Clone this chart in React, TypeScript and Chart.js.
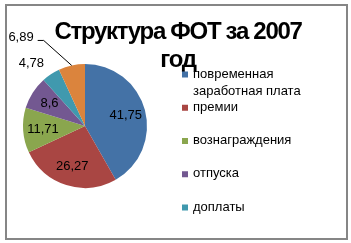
import React, { useEffect, useRef } from "react";
import { Chart, registerables } from "chart.js";

Chart.register(...registerables);

// ---- data ----
const titleLines = ["Структура ФОТ за 2007", "год"];
const categories = [
  "повременная заработная плата",
  "премии",
  "вознаграждения",
  "отпуска",
  "доплаты",
  "прочие",
];
const values = [41.75, 26.27, 11.71, 8.6, 4.78, 6.89];
const colors = ["#4472A6", "#A94643", "#8AA64E", "#735891", "#4099AE", "#DB843D"];
const visibleLegendItems = 5; // the last legend entry is clipped in the original
const labelPlacement = ["inside", "inside", "inside", "inside", "outside", "leader"];

// ---- styles ----
const W = 351;
const H = 243;
const LABEL_FONT = '13px "Liberation Sans", Arial, sans-serif';
const TITLE_FONT = 'bold 24px "Liberation Sans", Arial, sans-serif';

const fmt = (v: number) => String(v).replace(".", ",");

const framePlugin = {
  id: "frame",
  beforeDraw(chart: any) {
    const ctx = chart.ctx;
    ctx.save();
    ctx.fillStyle = "#ffffff";
    ctx.fillRect(0, 0, W, H);
    ctx.strokeStyle = "#868686";
    ctx.lineWidth = 2;
    ctx.strokeRect(6, 5, 341, 234);
    ctx.restore();
  },
};

const sliceLabelPlugin = {
  id: "sliceLabels",
  afterDatasetsDraw(chart: any) {
    const ctx = chart.ctx;
    const meta = chart.getDatasetMeta(0);
    ctx.save();
    ctx.font = LABEL_FONT;
    ctx.fillStyle = "#000";
    ctx.strokeStyle = "#000";
    ctx.lineWidth = 1;
    meta.data.forEach((arc: any, i: number) => {
      const p = arc.getProps(["x", "y", "startAngle", "endAngle", "outerRadius"], true);
      const mid = (p.startAngle + p.endAngle) / 2;
      const c = Math.cos(mid);
      const s = Math.sin(mid);
      const text = fmt(values[i]);
      const mode = labelPlacement[i];
      if (mode === "inside") {
        const r = p.outerRadius * 0.68;
        ctx.textAlign = "center";
        ctx.textBaseline = "middle";
        ctx.fillText(text, p.x + c * r, p.y + s * r);
      } else if (mode === "outside") {
        const r = p.outerRadius * 1.2;
        ctx.textAlign = c < 0 ? "right" : "left";
        ctx.textBaseline = "middle";
        ctx.fillText(text, p.x + c * r, p.y + s * r);
      } else {
        const sx = p.x + c * p.outerRadius;
        const sy = p.y + s * p.outerRadius;
        const ex = sx - 28;
        const ey = sy - 25;
        ctx.beginPath();
        ctx.moveTo(sx, sy);
        ctx.lineTo(ex, ey);
        ctx.lineTo(ex - 6, ey);
        ctx.stroke();
        ctx.textAlign = "right";
        ctx.textBaseline = "alphabetic";
        ctx.fillText(text, ex - 10, ey + 1);
      }
    });
    ctx.restore();
  },
};

const titleLegendPlugin = {
  id: "titleLegend",
  afterDraw(chart: any) {
    const ctx = chart.ctx;
    ctx.save();
    // title
    ctx.font = TITLE_FONT;
    (ctx as any).letterSpacing = "-1.3px";
    ctx.fillStyle = "#000";
    ctx.textAlign = "center";
    ctx.textBaseline = "alphabetic";
    ctx.fillText(titleLines[0], 178, 39);
    ctx.fillText(titleLines[1], 178, 67);
    (ctx as any).letterSpacing = "0px";

    // legend
    ctx.font = LABEL_FONT;
    ctx.textAlign = "left";
    ctx.textBaseline = "middle";
    const maxW = 120;
    for (let i = 0; i < visibleLegendItems; i++) {
      const y = 74 + i * 33.25;
      ctx.fillStyle = colors[i];
      ctx.fillRect(182, y - 2.5, 6, 6);
      ctx.fillStyle = "#000";
      const words = categories[i].split(" ");
      const lines: string[] = [];
      let cur = "";
      for (const w of words) {
        const t = cur ? cur + " " + w : w;
        if (cur && ctx.measureText(t).width > maxW) {
          lines.push(cur);
          cur = w;
        } else cur = t;
      }
      if (cur) lines.push(cur);
      lines.forEach((ln, k) => ctx.fillText(ln, 193, y + k * 17));
    }
    ctx.restore();
  },
};

export default function App() {
  const ref = useRef<HTMLCanvasElement | null>(null);
  useEffect(() => {
    if (!ref.current) return;
    const chart = new Chart(ref.current, {
      type: "pie",
      data: {
        labels: categories,
        datasets: [
          {
            data: values,
            backgroundColor: colors,
            borderWidth: 0,
          },
        ],
      },
      options: {
        responsive: false,
        animation: false,
        layout: { padding: { left: 23, top: 64, right: 204, bottom: 55 } },
        plugins: {
          legend: { display: false },
          title: { display: false },
          tooltip: { enabled: false },
        },
      },
      plugins: [framePlugin, sliceLabelPlugin, titleLegendPlugin],
    });
    return () => chart.destroy();
  }, []);
  return (
    <div style={{ position: "absolute", left: 0, top: 0, width: W, height: H }}>
      <canvas ref={ref} width={W} height={H} style={{ width: W, height: H, display: "block" }} />
    </div>
  );
}
